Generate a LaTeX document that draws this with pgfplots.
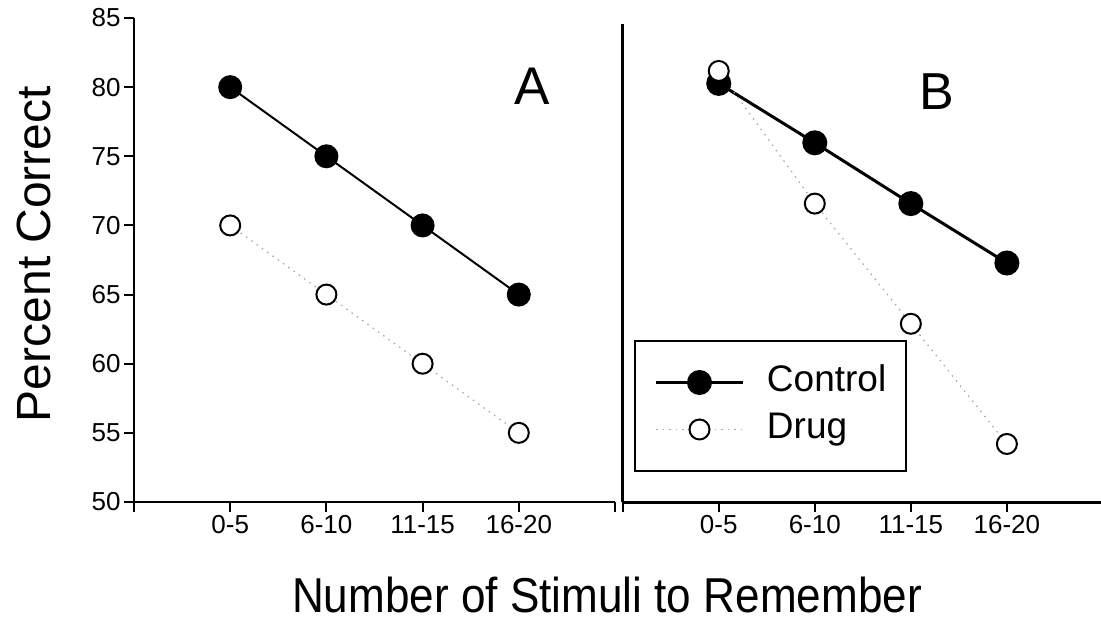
\documentclass[border=0pt]{standalone}
\usepackage{fontspec}
\setmainfont{Liberation Sans}
\usepackage{pgfplots}
\pgfplotsset{compat=1.18}

\begin{document}
\begin{tikzpicture}
\useasboundingbox (0pt,0pt) rectangle (1101pt,633pt);
\pgfplotsset{
  panel/.style={
    scale only axis,
    axis lines*=left,
    xmin=0, xmax=5, ymin=50,
    tick align=outside,
    major tick length=10pt,
    axis line style={line width=2pt},
    tick style={line width=2pt, black},
    ticklabel style={font=\fontsize{26}{30}\selectfont},
    /pgf/number format/assume math mode=true,
    clip=false,
  },
  ctrl/.style={black, line width=2pt, mark=*, mark size=11pt,
    mark options={solid, fill=black},
    legend image code/.code={\draw[mark repeat=2,mark phase=2,##1]
      plot coordinates {(0pt,0pt) (43pt,0pt) (87pt,0pt)};}},
  drug/.style={gray!70, line width=1.2pt, dash pattern=on 1.5pt off 5pt,
    mark=*, mark size=10pt,
    mark options={solid, draw=black, fill=white, line width=2pt},
    legend image code/.code={\draw[mark repeat=2,mark phase=2,##1]
      plot coordinates {(0pt,0pt) (43pt,0pt) (87pt,0pt)};}},
}

% panel A
\begin{axis}[panel, at={(134pt,131pt)}, anchor=south west,
  width=481pt, height=484pt, ymax=85, ytick={50,55,...,85},
  xtick={0,1,2,3,4,5}, xticklabels={,0-5,6-10,11-15,16-20,}]
  \addplot[drug] coordinates {(1,70) (2,65) (3,60) (4,55)};
  \addplot[ctrl] coordinates {(1,80) (2,75) (3,70) (4,65)};
\end{axis}

% panel B
\begin{axis}[panel, at={(622.7pt,131pt)}, anchor=south west,
  width=478.3pt, height=478pt, xmax=4.98, ymax=84.6, ytick=\empty,
  axis line style={line width=3pt},
  xtick={0,1,2,3,4}, xticklabels={,0-5,6-10,11-15,16-20},
  legend style={at={(0.0236,0.0628)}, anchor=south west, draw=black,
    line width=2pt, font=\fontsize{37}{44}\selectfont,
    inner xsep=20pt, inner ysep=18pt, column sep=22pt,
    nodes={inner xsep=0pt, inner ysep=6.5pt, text height=26pt, text depth=8pt}},
  legend cell align=left]
  \addplot[ctrl, line width=3pt] coordinates {(1,80.3) (2,76.0) (3,71.6) (4,67.3)};
  \addlegendentry{Control}
  \addplot[drug] coordinates {(1,81.2) (2,71.6) (3,62.9) (4,54.2)};
  \addlegendentry{Drug}
\end{axis}

\node[anchor=base, xscale=0.9, font=\fontsize{49}{58}\selectfont] at (607pt,21pt) {Number of Stimuli to Remember};
\node[anchor=base, rotate=90, font=\fontsize{48}{58}\selectfont] at (50pt,379pt) {Percent Correct};
\node[font=\fontsize{53}{60}\selectfont] at (532pt,547pt) {A};
\node[font=\fontsize{52}{60}\selectfont] at (937pt,541pt) {B};
\end{tikzpicture}
\end{document}
